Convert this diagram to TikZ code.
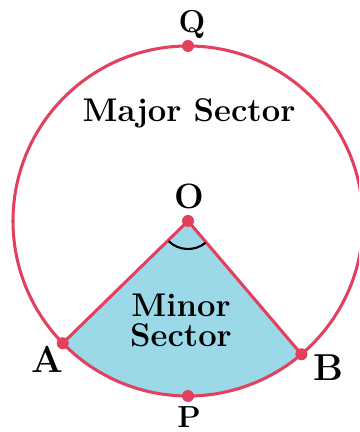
\documentclass[tikz,border=0pt]{standalone}
\usepackage{tikz}
\usetikzlibrary{positioning}
\definecolor{circred}{HTML}{E2405C}
\definecolor{sectorblue}{HTML}{9BD9E9}

\begin{document}
\begin{tikzpicture}[
  x=0.03cm, y=0.03cm,
  rim/.style={draw=circred, line width=2.6pt},
  dot/.style={circle, fill=circred, inner sep=0pt, minimum size=0.36cm},
  pointlabel/.style={font=\fontsize{32}{32}\selectfont\bfseries, inner sep=0pt},
  sectorname/.style={font=\fontsize{28}{25.6}\selectfont\bfseries, align=center, inner sep=0pt}
]
\useasboundingbox (0,0) rectangle (359,432);
\clip (0,0) rectangle (359,432);

\coordinate (O) at (188,211);
\coordinate (A) at ([shift={(224.3:175)}]O);
\coordinate (B) at ([shift={(-49.6:175)}]O);
\coordinate (P) at ([shift={(-90:175)}]O);
\coordinate (Q) at ([shift={(90:175)}]O);

% minor sector
\fill[sectorblue] (O) -- (A) arc[start angle=224.3, end angle=310.4, radius=175] -- cycle;
\draw[rim] (O) circle[radius=175];
\draw[rim] (A) -- (O) -- (B);
\draw[black, line width=1.8pt] ([shift={(226:28)}]O) arc[start angle=226, end angle=309, radius=28];

\node[dot] (dotO) at (O) {};
\node[dot] (dotA) at (A) {};
\node[dot] (dotB) at (B) {};
\node[dot] (dotP) at (P) {};
\node[dot] (dotQ) at (Q) {};

\node[pointlabel, font=\fontsize{27}{27}\selectfont\bfseries] (labQ) at (192,407) {Q};
\node[pointlabel, font=\fontsize{30}{30}\selectfont\bfseries] (labO) at (189,236) {O};
\node[pointlabel] (labA) at (47,73) {A};
\node[pointlabel] (labB) at (328,64) {B};
\node[pointlabel, font=\fontsize{26}{26}\selectfont\bfseries] (labP) at (189,15) {P};

\node[sectorname, anchor=base] (major) at (189,310) {Major Sector};
\node[sectorname] (minor) at (181,112) {Minor\\Sector};

\end{tikzpicture}
\end{document}
